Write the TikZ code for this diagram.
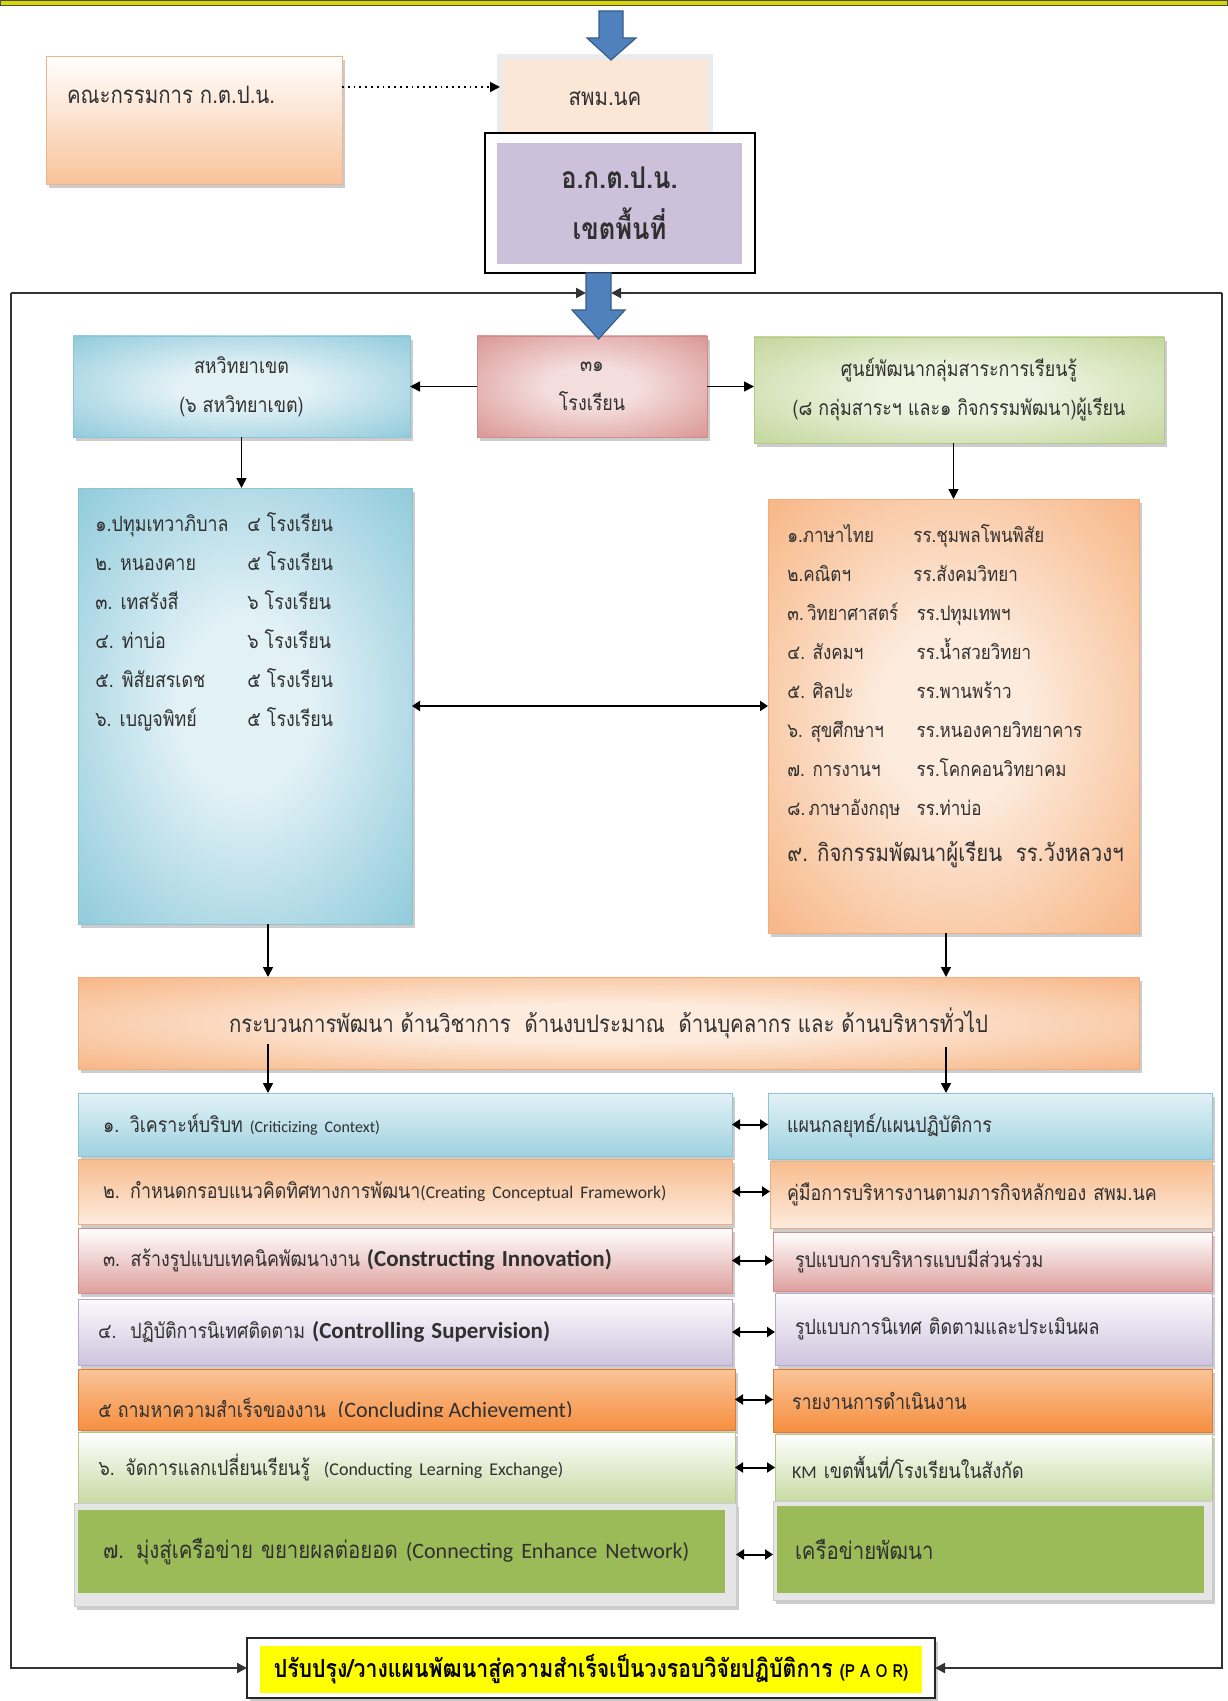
\documentclass[tikz,border=0pt]{standalone}
\usepackage{fontspec}
\setmainfont[Script=Thai,FakeStretch=0.85]{Loma}
\newfontfamily\en{Carlito}
\usetikzlibrary{arrows.meta,shadows,calc}

\definecolor{txt}{HTML}{303030}
\definecolor{barF}{HTML}{4F81BD}
\definecolor{barD}{HTML}{385D8A}
\definecolor{pchD}{HTML}{F8C39B}
\definecolor{pchE}{HTML}{EFB58A}
\definecolor{smpF}{HTML}{FCE6D6}
\definecolor{purF}{HTML}{CCC0DA}
\definecolor{bluL}{HTML}{E2F1F6}
\definecolor{bluD}{HTML}{9FD2E0}
\definecolor{bluO}{HTML}{8FCADB}
\definecolor{bluE}{HTML}{8CC4D4}
\definecolor{pnkL}{HTML}{F4DEDD}
\definecolor{pnkD}{HTML}{DDA09E}
\definecolor{pnkO}{HTML}{D99593}
\definecolor{pnkE}{HTML}{D08C8A}
\definecolor{grnL}{HTML}{EEF4E2}
\definecolor{grnD}{HTML}{C8DAA3}
\definecolor{grnO}{HTML}{C3D69B}
\definecolor{grnE}{HTML}{B3C98A}
\definecolor{orgL}{HTML}{FDEBDD}
\definecolor{orgD}{HTML}{F8BC8E}
\definecolor{orgO}{HTML}{F7B584}
\definecolor{orgE}{HTML}{EFAE7E}
\definecolor{lavL}{HTML}{FBFAFD}
\definecolor{lavD}{HTML}{CFC4DE}
\definecolor{lavE}{HTML}{B8A9CC}
\definecolor{orsT}{HTML}{FAC499}
\definecolor{orsB}{HTML}{F68F40}
\definecolor{orsE}{HTML}{E07B30}
\definecolor{gsol}{HTML}{9BBB59}
\definecolor{ylw}{HTML}{FFFF00}
\definecolor{rulec}{HTML}{D8D800}
\colorlet{rin}{white}
\colorlet{rout}{gray}
\pgfdeclareradialshading[rin,rout]{soft}{\pgfpoint{0bp}{0bp}}{color(0bp)=(rin); color(10bp)=(rin); color(36bp)=(rout); color(50bp)=(rout)}

\newcommand\mkbox[7]{\node[#1, minimum width={(#5-#3)*0.5pt}, minimum height={(#6-#4)*0.5pt}, inner sep=0pt, outer sep=0pt] (#2) at ({(#3+#5)/2},{(#4+#6)/2}) {#7};}
\newcommand\fT[1]{\fontsize{#1}{19.5}\selectfont}
\newcommand\E[2]{{\en\fontsize{#1}{#1}\selectfont #2}}
\newcommand\EB[2]{{\en\bfseries\fontsize{#1}{#1}\selectfont #2}}

\begin{document}
\begin{tikzpicture}[x=0.5pt,y=-0.5pt,
  arr/.style={-{Triangle[length=5pt,width=5pt]}},
  conn/.style={draw=black, line width=0.8pt, arr},
  dconn/.style={draw=black, line width=1pt, {Triangle[length=4pt,width=5pt]}-{Triangle[length=4pt,width=5pt]}},
  frm/.style={draw=black!80, line width=1.1pt},
  sh/.style={drop shadow={shadow xshift=1.5pt,shadow yshift=-1.8pt,fill=black!50,opacity=0.4}},
  barrow/.style={fill=barF, draw=barD, line width=0.6pt},
  tx/.style={text=txt},
  radbox/.style n args={3}{/utils/exec={\colorlet{rin}{#1}\colorlet{rout}{#2}}, shade, shading=soft, draw=#3, line width=0.4pt, sh, tx},
  vbox/.style n args={3}{top color=#1, bottom color=#2, draw=#3, line width=0.4pt, sh, tx},
]
\useasboundingbox (0,0) rectangle (1227,1701);
\fill[white] (0,0) rectangle (1227,1701);
\filldraw[fill=rulec, draw=black!70, line width=0.4pt] (0,0) rectangle (1227,5);

% committee
\mkbox{vbox={white}{pchD}{pchE}}{kc}{46}{56}{342}{184}{}
\node[tx, anchor=west, font=\fT{12}] (kct) at (60,95) {คณะกรรมการ ก.ต.ป.น.};

% office
\mkbox{fill=smpF, draw=black!8, line width=3pt, tx, font=\fT{12}}{smp}{500}{57}{710}{140}{สพม.นค}
\mkbox{fill=white, draw=black, line width=0.9pt}{okto}{485}{133}{755}{273}{}
\mkbox{fill=purF, tx, align=center, font={\fontsize{15}{25.5}\selectfont\bfseries}}{okt}{497}{143}{742}{264}{อ.ก.ต.ป.น.\\เขตพื้นที่}

\filldraw[barrow] (599,11) -- (623,11) -- (623,38) -- (636,38) -- (611,60) -- (587,38) -- (599,38) -- cycle;
\draw[dotted, line width=0.9pt, arr] (kc.east |- 0,87) -- (smp.west |- 0,87);

% bottom box
\mkbox{fill=white, draw=black!85, line width=0.9pt, sh}{pb}{247}{1638}{935}{1698}{}
\mkbox{fill=ylw, text=black, font={\fontsize{12.5}{15}\selectfont\bfseries}}{pbt}{260}{1646}{922}{1693}{ปรับปรุง/วางแผนพัฒนาสู่ความสำเร็จเป็นวงรอบวิจัยปฏิบัติการ {\fontsize{9}{10}\selectfont (P A O R)}}

% frame
\coordinate (fTL) at (11,293);
\coordinate (fTR) at (1222,293);
\coordinate (ba2L) at (586,293);
\coordinate (ba2R) at (611,293);
\draw[frm, arr] (fTL) -- (ba2L);
\draw[frm, arr] (fTR) -- (ba2R);
\draw[frm, arr] (fTL) |- (pb.west);
\draw[frm, arr] (fTR) |- (pb.east);

% second row
\mkbox{radbox={bluL}{bluO}{bluE}, align=center, font=\fT{10.5}}{sv}{73}{336}{410}{437}{สหวิทยาเขต\\(๖ สหวิทยาเขต)}
\mkbox{radbox={pnkL}{pnkO}{pnkE}, align=center, font=\fT{10.5}}{s31}{477}{336}{707}{437}{๓๑\\โรงเรียน}
\mkbox{radbox={grnL}{grnO}{grnE}, align=center, font=\fT{10.5}}{sc}{754}{337}{1164}{443}{ศูนย์พัฒนากลุ่มสาระการเรียนรู้\\(๘ กลุ่มสาระฯ และ๑ กิจกรรมพัฒนา)ผู้เรียน}

\filldraw[barrow] (586,273) -- (611,273) -- (611,310) -- (625,310) -- (598.5,339) -- (572,310) -- (586,310) -- cycle;

\draw[conn] (s31.west) -- (sv.east);
\draw[conn] (s31.east) -- (s31.east -| sc.west);

% lists
\mkbox{radbox={bluL}{bluO}{bluE}}{lb}{78}{488}{412}{924}{}
\node[tx, anchor=north west, inner sep=0pt, font=\fT{10.5}] (lbt) at (95,504) {\begin{tabular}{@{}p{76pt}@{}l@{}}
๑.ปทุมเทวาภิบาล & ๔ โรงเรียน\\
๒. หนองคาย & ๕ โรงเรียน\\
๓. เทสรังสี & ๖ โรงเรียน\\
๔. ท่าบ่อ & ๖ โรงเรียน\\
๕. พิสัยสรเดช & ๕ โรงเรียน\\
๖. เบญจพิทย์ & ๕ โรงเรียน
\end{tabular}};

\mkbox{radbox={orgL}{orgO}{orgE}}{rb}{768}{499}{1139}{933}{}
\node[tx, anchor=north west, inner sep=0pt, font=\fT{10}] (rbt) at (787,515) {\begin{tabular}{@{}p{63pt}@{}l@{}}
๑.ภาษาไทย & รร.ชุมพลโพนพิสัย\\
๒.คณิตฯ & รร.สังคมวิทยา\\
๓.\,วิทยาศาสตร์ & \,รร.ปทุมเทพฯ\\
๔. สังคมฯ & \,รร.น้ำสวยวิทยา\\
๕. ศิลปะ & \,รร.พานพร้าว\\
๖. สุขศึกษาฯ & \,รร.หนองคายวิทยาคาร\\
๗. การงานฯ & \,รร.โคกคอนวิทยาคม\\
๘.\,ภาษาอังกฤษ & \,รร.ท่าบ่อ\\[3.5pt]
\multicolumn{2}{@{}l@{}}{\fontsize{12}{19.5}\selectfont ๙. กิจกรรมพัฒนาผู้เรียน\ \ รร.วังหลวงฯ}
\end{tabular}};

\coordinate (xL) at (268,0);
\coordinate (xR) at (946,0);
\draw[conn] (sv.south) -- (sv.south |- lb.north);
\draw[conn] (rb.north |- sc.south) -- (rb.north);
\draw[dconn] (lb.east) -- (lb.east -| rb.west);

% process
\mkbox{radbox={orgL}{orgO}{orgE}, font=\fT{12}}{pr}{78}{977}{1139}{1069}{กระบวนการพัฒนา ด้านวิชาการ~ ด้านงบประมาณ~ ด้านบุคลากร และ ด้านบริหารทั่วไป}
\draw[conn] (xL |- lb.south) -- (xL |- pr.north);
\draw[conn] (xR |- rb.south) -- (xR |- pr.north);

% left stack
\mkbox{vbox={bluL}{bluD}{bluE}, text width=302pt, align=left, font=\fT{10.5}}{L1}{78}{1093}{732}{1156}{๑. วิเคราะห์บริบท \E{8}{(Criticizing Context)}}
\mkbox{vbox={orgD}{orgL}{orgE}, text width=302pt, align=left, font=\fT{10.5}}{L2}{78}{1159}{732}{1224}{๒. กำหนดกรอบแนวคิดทิศทางการพัฒนา\E{8.8}{(Creating Conceptual Framework)}}
\mkbox{vbox={white}{pnkD}{pnkE}, text width=302pt, align=left, font=\fT{10.5}}{L3}{78}{1228}{732}{1293}{๓. สร้างรูปแบบเทคนิคพัฒนางาน \EB{11.5}{(Constructing Innovation)}}
\mkbox{vbox={lavL}{lavD}{lavE}, text width=307pt, align=left, font=\fT{10.5}}{L4}{78}{1299}{732}{1365}{๔.\ \ ปฏิบัติการนิเทศติดตาม \EB{11.5}{(Controlling Supervision)}}
\mkbox{vbox={orsT}{orsB}{orsE}}{L5}{78}{1369}{735}{1430}{}
\begin{scope}
\clip (78,1369) rectangle (735,1416);
\node[tx, anchor=west, inner sep=0pt, font=\fT{10.5}] (L5t) at (98,1410) {๕ ถามหาความสำเร็จของงาน\ \ \E{11}{(Concluding Achievement)}};
\end{scope}
\mkbox{vbox={white}{grnD}{grnE}, text width=308pt, align=left, font=\fT{10.5}}{L6}{78}{1432}{735}{1503}{๖. จัดการแลกเปลี่ยนเรียนรู้\ \ \E{9}{(Conducting Learning Exchange)}}
\mkbox{fill=black!10, draw=black!20, line width=0.4pt, sh}{L7}{74}{1503}{736}{1606}{}
\mkbox{fill=gsol, tx, text width=298.5pt, align=left, font=\fT{12}}{L7g}{78}{1510}{725}{1593}{๗. มุ่งสู่เครือข่าย ขยายผลต่อยอด \E{11}{(Connecting Enhance Network)}}

% right stack
\mkbox{vbox={bluL}{bluD}{bluE}, text width=203pt, align=left, font=\fT{10.5}}{R1}{768}{1093}{1212}{1159}{แผนกลยุทธ์/แผนปฏิบัติการ}
\mkbox{vbox={orgD}{orgL}{orgE}, text width=204pt, align=left, font=\fT{10.5}}{R2}{770}{1161}{1212}{1228}{คู่มือการบริหารงานตามภารกิจหลักของ สพม.นค}
\mkbox{vbox={white}{pnkD}{pnkE}, text width=197.5pt, align=left, font=\fT{10.5}}{R3}{773}{1232}{1212}{1291}{รูปแบบการบริหารแบบมีส่วนร่วม}
\mkbox{vbox={lavL}{lavD}{lavE}, text width=198.5pt, align=left, font=\fT{10.5}}{R4}{775}{1293}{1212}{1365}{รูปแบบการนิเทศ ติดตามและประเมินผล}
\mkbox{vbox={orsT}{orsB}{orsE}, text width=200.5pt, align=left, font=\fT{10.5}}{R5}{773}{1369}{1212}{1432}{รายงานการดำเนินงาน}
\mkbox{vbox={white}{grnD}{grnE}, text width=201.5pt, align=left, font=\fT{10.5}}{R6}{775}{1434}{1212}{1501}{\E{9}{KM} เขตพื้นที่/โรงเรียนในสังกัด}
\mkbox{fill=black!10, draw=black!20, line width=0.4pt, sh}{R7}{773}{1501}{1212}{1600}{}
\mkbox{fill=gsol, tx, text width=195.5pt, align=left, font=\fT{12}}{R7g}{777}{1506}{1204}{1593}{เครือข่ายพัฒนา}

\draw[conn] (xL |- pr.south) ++(0,-25) -- (xL |- L1.north);
\draw[conn] (xR |- pr.south) ++(0,-22) -- (xR |- R1.north);

\foreach \i in {1,...,7} {\draw[dconn] (L\i.east) -- (L\i.east -| R\i.west);}
\end{tikzpicture}
\end{document}
